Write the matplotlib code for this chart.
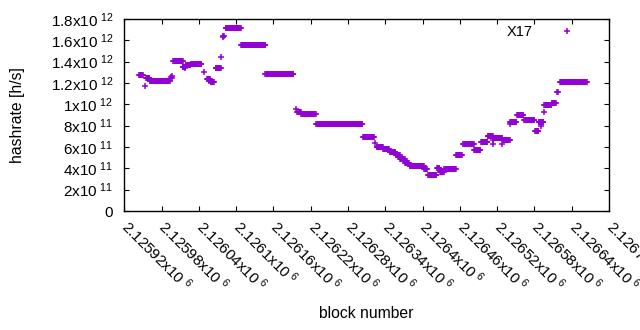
import numpy as np
import matplotlib
matplotlib.use('Agg')
import matplotlib.pyplot as plt
from matplotlib.ticker import FixedLocator, FuncFormatter
from matplotlib.transforms import ScaledTranslation

plt.rcParams['font.family'] = ['Liberation Sans', 'DejaVu Sans']
plt.rcParams['mathtext.fontset'] = 'custom'
plt.rcParams['mathtext.rm'] = 'Liberation Sans'

# difficulty periods: first block, last block, hashrate (x1e11 h/s)
seg_start = [2125944, 2125953, 2125955, 2125961, 2125995, 2125996, 2125999, 2126014, 2126019,
             2126027, 2126048, 2126053, 2126059, 2126067, 2126076, 2126079, 2126083, 2126108,
             2126147, 2126196, 2126198, 2126205, 2126229, 2126304, 2126323, 2126326, 2126337,
             2126347, 2126357, 2126364, 2126372, 2126379, 2126403, 2126409, 2126423, 2126428,
             2126435, 2126454, 2126465, 2126483, 2126494, 2126505, 2126514, 2126516, 2126529,
             2126541, 2126552, 2126563, 2126581, 2126587, 2126595, 2126596, 2126608, 2126617,
             2126621]
seg_end = [2125950, 2125953, 2125960, 2125993, 2125995, 2125996, 2126014, 2126018, 2126026,
           2126044, 2126048, 2126058, 2126064, 2126075, 2126076, 2126080, 2126107, 2126147,
           2126192, 2126196, 2126204, 2126228, 2126303, 2126322, 2126323, 2126336, 2126346,
           2126356, 2126363, 2126371, 2126378, 2126402, 2126407, 2126422, 2126427, 2126434,
           2126453, 2126463, 2126482, 2126493, 2126504, 2126513, 2126514, 2126528, 2126540,
           2126551, 2126562, 2126580, 2126586, 2126594, 2126595, 2126607, 2126614, 2126618,
           2126664]
seg_hash = [12.72, 11.75, 12.44, 12.16, 12.56, 12.70, 14.03, 13.50, 13.65,
            13.78, 13.06, 12.40, 12.10, 13.38, 14.41, 16.45, 17.13, 15.53,
            12.80, 9.53, 9.25, 9.06, 8.13, 6.94, 6.35, 5.97, 5.84,
            5.50, 5.28, 4.90, 4.53, 4.19, 3.90, 3.38, 4.00, 3.69,
            3.90, 5.23, 6.28, 5.72, 6.47, 7.03, 6.66, 6.84, 6.66,
            8.37, 9.00, 8.50, 7.53, 8.30, 9.25, 9.90, 10.10, 11.18,
            12.06]

# scattered single blocks
extra_block = [2125996, 2126017, 2126056, 2126079, 2126514, 2126528, 2126541, 2126584, 2126590]
extra_hash = [12.45, 13.45, 12.20, 16.30, 6.28, 6.28, 8.20, 7.50, 8.00]

xticks = [2125920 + 60 * i for i in range(14)]
yticks = [0, 2e11, 4e11, 6e11, 8e11, 1e12, 1.2e12, 1.4e12, 1.6e12, 1.8e12]

blocks = np.concatenate([np.arange(s, e + 1) for s, e in zip(seg_start, seg_end)] + [np.array(extra_block)])
hashrate = np.concatenate([np.full(e - s + 1, h * 1e11) for s, e, h in zip(seg_start, seg_end, seg_hash)]
                          + [np.array(extra_hash) * 1e11])

fig = plt.figure(figsize=(6.4, 3.3), dpi=100)
ax = fig.add_axes([0.1942, 0.3606, 0.7574, 0.5818])
ax.plot(blocks, hashrate, '+', color='#9400d3', ms=4.8, mew=1.1, label='X17')

ax.set_xlim(2125920, 2126700)
ax.set_ylim(0, 1.8e12)


def sci_fmt(v, pos=None):
    if v == 0:
        return '0'
    e = int(np.floor(np.log10(abs(v)) + 1e-9))
    m = v / 10 ** e
    return r'$\mathregular{%gx10^{\ %d}}$' % (round(m, 6), e)


ax.yaxis.set_major_locator(FixedLocator(yticks))
ax.yaxis.set_major_formatter(FuncFormatter(sci_fmt))
ax.xaxis.set_major_locator(FixedLocator(xticks))
ax.set_xticklabels([sci_fmt(t) for t in xticks], rotation=-45, ha='left', va='top',
                   rotation_mode='anchor')
ax.tick_params(direction='in', length=3.5, width=0.8, top=True, right=True, labelsize=11)
ax.tick_params(axis='y', pad=8)
ax.tick_params(axis='x', pad=6)
shift = ScaledTranslation(0.07, 0.02, fig.dpi_scale_trans)
for lbl in ax.get_xticklabels():
    lbl.set_transform(lbl.get_transform() + shift)
for sp in ax.spines.values():
    sp.set_linewidth(1.0)

ax.set_ylabel('hashrate [h/s]', fontsize=11.3)
ax.set_xlabel('block number', fontsize=11.3)
ax.yaxis.set_label_coords(-0.205, 0.5)
ax.xaxis.set_label_coords(0.5, -0.495)

ax.legend(loc='center right', bbox_to_anchor=(0.9435, 0.932), frameon=False, markerfirst=False,
          handlelength=2.0, handletextpad=1.33, borderpad=0, borderaxespad=0, fontsize=10.5)

fig.savefig('out.png', dpi=100)
